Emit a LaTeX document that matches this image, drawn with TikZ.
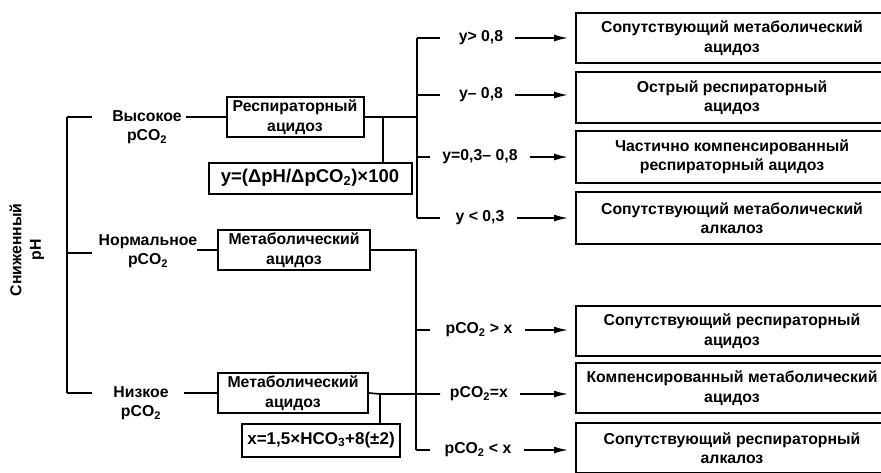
\documentclass[tikz,border=0pt]{standalone}
\usepackage{fontspec}
\setmainfont{Liberation Sans}
\usetikzlibrary{arrows.meta}
\newcommand{\pco}{pCO\textsubscript{2}}

\begin{document}
\begin{tikzpicture}[x=1pt, y=-1pt, line width=1.6pt,
    every node/.style={font=\bfseries\fontsize{15.8}{19.5}\selectfont, align=center},
    box/.style={draw, line width=2pt, inner sep=2pt},
    res/.style={box, anchor=north west, minimum width=312pt, minimum height=50pt},
    mid/.style={box, minimum width=140pt, minimum height=40pt},
    arr/.style={-{Latex[length=14pt,width=7pt]}, shorten <=8pt, shorten >=7pt}]
    \useasboundingbox (0,0) rectangle (881,472);
    % reduced pH
    \node[rotate=90] (ph) at (27,250) {Сниженный\\pH};
    \coordinate (p1) at (67,117);
    \coordinate (p2) at (67,253);
    \coordinate (p3) at (67,393);
    \draw (p1) -- (p3);
    \draw (p1) -- ++(25,0);
    \draw (p2) -- ++(25,0);
    \draw (p3) -- ++(25,0);
    \node (hi) at (147,127) {Высокое\\\pco};
    \node (nm) at (148,251) {Нормальное\\\pco};
    \node (lo) at (141,403) {Низкое\\\pco};
    % second column
    \node[mid, minimum width=137pt] (ra) at (295,117) {Респираторный\\ацидоз};
    \node[mid, minimum width=152pt] (na) at (294,250) {Метаболический\\ацидоз};
    \node[mid, minimum width=150pt] (la) at (293,393) {Метаболический\\ацидоз};
    \node[box, minimum width=203pt, minimum height=31pt, font=\bfseries\fontsize{18.5}{22}\selectfont] (fy) at (310,178) {y=(ΔpH/Δ\pco)×100};
    \node[box, minimum width=158pt, minimum height=33pt, font=\bfseries\fontsize{17}{20}\selectfont] (fx) at (321,440) {x=1,5×HCO\textsubscript{3}+8(±2)};
    \draw (ra.west) -- ++(-40,0);
    \draw (na.west) -- ++(-20,0);
    \draw (la.west) -- ++(-33,0);
    % high pCO2 branches
    \coordinate (rj) at (383,117);
    \coordinate (b1) at (417,38);
    \coordinate (b2) at (417,95);
    \coordinate (b3) at (417,157);
    \coordinate (b4) at (417,218);
    \draw (ra.east) -- (rj) -- (b1 |- rj);
    \draw (rj) -- (rj |- fy.north);
    \draw (b1) -- (b4);
    \draw (b1) -- ++(23,0);
    \draw (b2) -- ++(23,0);
    \draw (b3) -- ++(13,0);
    \draw (b4) -- ++(23,0);
    \node (c1) at (481,38) {y> 0,8};
    \node (c2) at (481,95) {y– 0,8};
    \node (c3) at (480,157) {y=0,3– 0,8};
    \node (c4) at (480,218) {y < 0,3};
    \node[res] (r1) at (575,12) {Сопутствующий метаболический\\ацидоз};
    \node[res, minimum height=51pt] (r2) at (575,71) {Острый респираторный\\ацидоз};
    \node[res, minimum height=52pt] (r3) at (575,130) {Частично компенсированный\\респираторный ацидоз};
    \node[res, minimum height=52pt] (r4) at (575,191) {Сопутствующий метаболический\\алкалоз};
    \draw[arr] (c1.east) -- (c1.east -| r1.west);
    \draw[arr] (c2.east) -- (c2.east -| r2.west);
    \draw[arr] (c3.east) -- (c3.east -| r3.west);
    \draw[arr] (c4.east) -- (c4.east -| r4.west);
    % low pCO2 branches
    \coordinate (lj) at (380,394);
    \coordinate (d1) at (416,330);
    \coordinate (d3) at (416,450);
    \draw (na.east) -| (d3);
    \draw (d1) -- ++(14,0);
    \draw (d3) -- ++(14,0);
    \draw (la.east) -- (lj) -- (440,394);
    \draw (lj) -- (lj |- fx.north);
    \node (e1) at (479,330) {\pco{} > x};
    \node (e2) at (479,394) {\pco=x};
    \node (e3) at (478,450) {\pco{} < x};
    \node[res] (r5) at (575,305) {Сопутствующий респираторный\\ацидоз};
    \node[res] (r6) at (575,362) {Компенсированный метаболический\\ацидоз};
    \node[res] (r7) at (575,422) {Сопутствующий респираторный\\алкалоз};
    \draw[arr] (e1.east) -- (e1.east -| r5.west);
    \draw[arr] (e2.east) -- (e2.east -| r6.west);
    \draw[arr] (e3.east) -- (e3.east -| r7.west);
\end{tikzpicture}
\end{document}
